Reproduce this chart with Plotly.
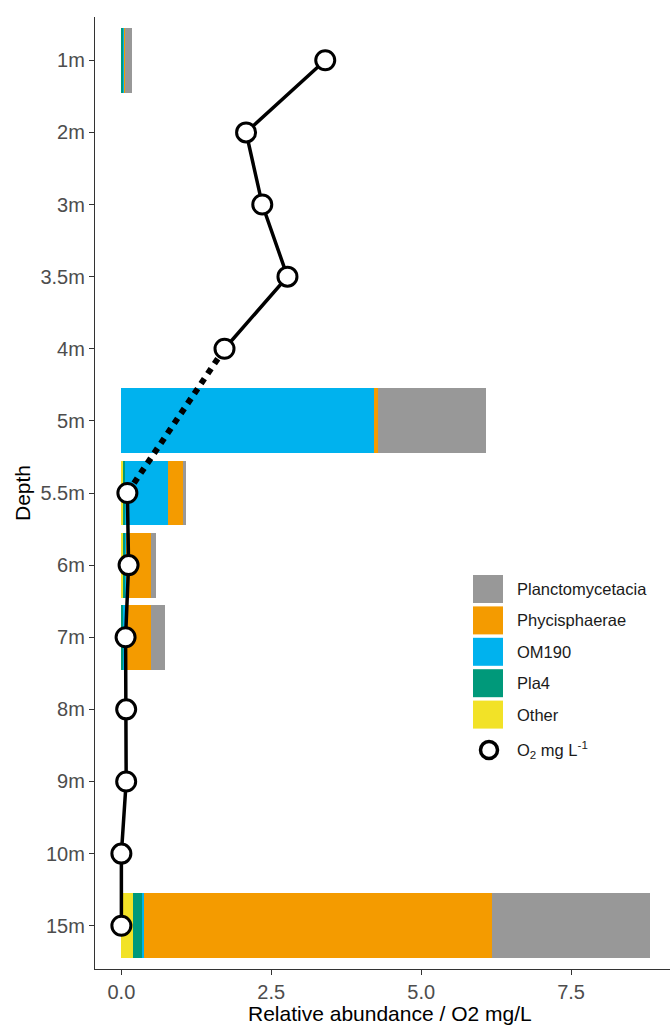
import plotly.graph_objects as go

# Depth categories (top to bottom)
depths = ["1m", "2m", "3m", "3.5m", "4m", "5m", "5.5m", "6m", "7m", "8m", "9m", "10m", "15m"]

# Relative abundance of each class per depth
other = [0.0, 0, 0, 0, 0, 0.0, 0.03, 0.03, 0.0, 0, 0, 0, 0.2]
pla4 = [0.03, 0, 0, 0, 0, 0.0, 0.03, 0.04, 0.04, 0, 0, 0, 0.14]
om190 = [0.017, 0, 0, 0, 0, 4.22, 0.72, 0.01, 0.02, 0, 0, 0, 0.04]
phycisphaerae = [0.017, 0, 0, 0, 0, 0.055, 0.24, 0.42, 0.44, 0, 0, 0, 5.8]
planctomycetacia = [0.11, 0, 0, 0, 0, 1.8, 0.055, 0.07, 0.22, 0, 0, 0, 2.64]

# Dissolved oxygen (mg/L); no measurement at 5m
o2 = [3.4, 2.08, 2.35, 2.77, 1.72, None, 0.1, 0.12, 0.07, 0.08, 0.08, 0.0, 0.0]

x_ticks = [0, 2.5, 5, 7.5]
x_tick_labels = ["0.0", "2.5", "5.0", "7.5"]

series = [
    ("Other", other, "#F2E227"),
    ("Pla4", pla4, "#00997A"),
    ("OM190", om190, "#00B2EE"),
    ("Phycisphaerae", phycisphaerae, "#F49B00"),
    ("Planctomycetacia", planctomycetacia, "#989898"),
]

FONT = "Liberation Sans, Arial, sans-serif"
W, H = 670, 1027
ML, MR, MT, MB = 95, 0, 17, 58
PW, PH = W - ML - MR, H - MT - MB

fig = go.Figure()

for name, vals, col in series:
    fig.add_trace(go.Bar(
        x=vals, y=depths, orientation="h", name=name,
        marker=dict(color=col, line=dict(width=0)),
        showlegend=False,
    ))

# Solid oxygen profile (breaks where there is no reading)
fig.add_trace(go.Scatter(
    x=o2, y=depths, mode="lines", connectgaps=False,
    line=dict(color="black", width=3.5), showlegend=False,
))

# Dotted bridge across the missing reading
for i, v in enumerate(o2):
    if v is None:
        j0, j1 = i - 1, i + 1
        while o2[j1] is None:
            j1 += 1
        fig.add_trace(go.Scatter(
            x=[o2[j0], o2[j1]], y=[depths[j0], depths[j1]], mode="lines",
            line=dict(color="black", width=6, dash="dot"), showlegend=False,
        ))

fig.add_trace(go.Scatter(
    x=o2, y=depths, mode="markers",
    marker=dict(symbol="circle", size=19, color="white",
                line=dict(color="black", width=3)),
    showlegend=False,
))


def px_x(p):
    return (p - ML) / PW


def px_y(p):
    return (H - MB - p) / PH


shapes = []
annotations = []

# Legend: boxes for the classes, ring for oxygen
legend_items = [(n, c) for n, _, c in reversed(series)]
key_left, key_w, key_h = 473, 30, 28
first_c, step, text_x = 589, 31.4, 515
for k, (name, col) in enumerate(legend_items):
    cy = first_c + k * step
    shapes.append(dict(
        type="rect", xref="paper", yref="paper",
        x0=px_x(key_left), x1=px_x(key_left + key_w),
        y0=px_y(cy + key_h / 2), y1=px_y(cy - key_h / 2),
        fillcolor=col, line=dict(width=0),
    ))
    annotations.append(dict(
        text=name, xref="paper", yref="paper", x=px_x(text_x), y=px_y(cy),
        xanchor="left", yanchor="middle", showarrow=False,
        font=dict(family=FONT, size=16.5, color="#1a1a1a"),
    ))

o2_cy = first_c + len(legend_items) * step + 4
shapes.append(dict(
    type="circle", xref="paper", yref="paper",
    xsizemode="pixel", ysizemode="pixel",
    xanchor=px_x(489), yanchor=px_y(o2_cy),
    x0=-8.5, x1=8.5, y0=-8.5, y1=8.5,
    fillcolor="white", line=dict(color="black", width=3.5),
))
annotations.append(dict(
    text="O<sub>2</sub> mg L<sup>-1</sup>", xref="paper", yref="paper",
    x=px_x(text_x), y=px_y(o2_cy), xanchor="left", yanchor="middle",
    showarrow=False, font=dict(family=FONT, size=16.5, color="#1a1a1a"),
))

# Axis titles
annotations.append(dict(
    text="Relative abundance / O2 mg/L", xref="paper", yref="paper",
    x=px_x(390), y=px_y(1013), xanchor="center", yanchor="middle",
    showarrow=False, font=dict(family=FONT, size=21, color="black"),
))
annotations.append(dict(
    text="Depth", xref="paper", yref="paper",
    x=px_x(22), y=px_y(493), xanchor="center", yanchor="middle",
    textangle=-90, showarrow=False, font=dict(family=FONT, size=21, color="black"),
))

fig.update_layout(
    width=W, height=H,
    margin=dict(l=ML, r=MR, t=MT, b=MB, pad=0),
    paper_bgcolor="white", plot_bgcolor="white",
    barmode="stack", bargap=0.1,
    shapes=shapes, annotations=annotations,
    xaxis=dict(
        range=[-0.44, 9.15], tickvals=x_ticks, ticktext=x_tick_labels,
        showgrid=False, zeroline=False, showline=True,
        linecolor="#333333", linewidth=1.3,
        ticks="outside", ticklen=5, tickwidth=1.2, tickcolor="#333333",
        tickfont=dict(family=FONT, size=20, color="#4d4d4d"),
    ),
    yaxis=dict(
        type="category", categoryorder="array", categoryarray=depths,
        range=[len(depths) - 0.4, -0.6],
        showgrid=False, zeroline=False, showline=True,
        linecolor="#333333", linewidth=1.3,
        ticks="outside", ticklen=5, tickwidth=1.2, tickcolor="#333333",
        tickfont=dict(family=FONT, size=20, color="#4d4d4d"),
    ),
)

fig.write_html("out.html")
